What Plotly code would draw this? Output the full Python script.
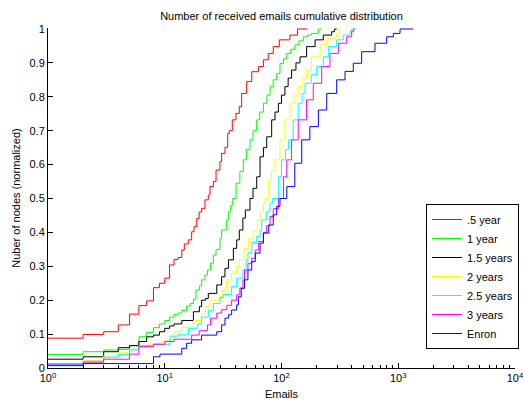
import plotly.graph_objects as go

# ---- data ----
names = [".5 year", "1 year", "1.5 years", "2 years", "2.5 years", "3 years", "Enron"]
colors = ["#FF0000", "#00FF00", "#000000", "#FFFF00", "#00FFFF", "#FF00FF", "#0000FF"]

red_x = [1, 2, 3, 4, 5, 6, 7, 8, 9, 10, 11, 12, 13, 14, 14.7, 15.9, 17, 17.8, 18.8, 19.7, 20.7, 22.1, 23.6,
         24.4, 26.1, 27.5, 29.7, 30.7, 32.8, 34.6, 35.7, 37.9, 40.7, 43.5, 45.6, 50.3, 55.6, 63.4, 70, 77, 85,
         95.8, 118, 137, 166]
red_y = [0.088, 0.099, 0.107, 0.127, 0.159, 0.184, 0.198, 0.237, 0.25, 0.265, 0.304, 0.32, 0.326, 0.348, 0.366,
         0.378, 0.402, 0.417, 0.441, 0.46, 0.471, 0.496, 0.51, 0.535, 0.55, 0.584, 0.609, 0.633, 0.651, 0.692,
         0.70, 0.732, 0.751, 0.771, 0.81, 0.845, 0.874, 0.889, 0.909, 0.928, 0.948, 0.968, 0.982, 1.0, 1.0]

green_x = [1, 2, 3, 4, 5, 6, 7, 8, 9, 10, 11, 12, 13, 14, 15.4, 16.5, 17.6, 18.5, 19.8, 20.7, 22.1, 23.2, 24.7,
           26.1, 27.5, 29.7, 30.7, 33.9, 35.1, 36.7, 38.2, 40.8, 44, 47.1, 50, 53.7, 57, 61.3, 65, 70, 75, 79.7,
           85, 91, 97, 104, 111, 120, 130, 141, 154, 167, 181, 207, 221]
green_y = [0.040, 0.048, 0.053, 0.055, 0.066, 0.092, 0.105, 0.119, 0.13, 0.14, 0.15, 0.157, 0.162, 0.17, 0.183,
           0.19, 0.203, 0.23, 0.242, 0.26, 0.274, 0.289, 0.309, 0.333, 0.35, 0.383, 0.407, 0.437, 0.461, 0.48,
           0.5, 0.545, 0.58, 0.614, 0.645, 0.673, 0.70, 0.732, 0.755, 0.781, 0.805, 0.83, 0.85, 0.869, 0.898,
           0.912, 0.928, 0.94, 0.953, 0.965, 0.977, 0.982, 0.987, 1.0, 1.0]

black_x = [1, 2, 3, 4, 5, 6, 7, 8, 9, 10, 11, 12, 14, 17.6, 19.8, 20.7, 22.4, 23.6, 27.9, 30.7, 32.8, 35.1, 38.7,
           41.3, 43.5, 46.7, 49, 53.7, 57, 61.3, 65.5, 70, 74.7, 82.4, 88, 94, 100, 107, 114, 122, 133, 144, 164,
           194, 228, 269, 285, 297]
black_y = [0.026, 0.033, 0.048, 0.060, 0.066, 0.078, 0.092, 0.097, 0.107, 0.117, 0.124, 0.13, 0.14, 0.166, 0.181,
           0.2, 0.205, 0.22, 0.245, 0.269, 0.294, 0.319, 0.353, 0.378, 0.407, 0.442, 0.466, 0.5, 0.53, 0.564,
           0.623, 0.65, 0.682, 0.732, 0.755, 0.781, 0.805, 0.83, 0.855, 0.879, 0.90, 0.918, 0.948, 0.968, 0.982,
           0.992, 1.0, 1.0]

yellow_x = [1, 2, 3, 4, 5, 6, 7, 8, 9, 10, 11.1, 12, 14, 17.6, 20.7, 22.4, 24.3, 29.7, 31.4, 33.9, 37.4, 41.3,
            43.5, 47.9, 52, 57.4, 62, 65.5, 70, 72, 77, 82, 88, 97, 107, 118, 128, 139, 150, 164, 181, 214, 244,
            297, 310, 317]
yellow_y = [0.012, 0.022, 0.035, 0.045, 0.055, 0.062, 0.068, 0.072, 0.076, 0.08, 0.085, 0.107, 0.12, 0.14, 0.16,
            0.181, 0.2, 0.21, 0.23, 0.26, 0.28, 0.299, 0.32, 0.353, 0.383, 0.407, 0.437, 0.461, 0.486, 0.5, 0.555,
            0.58, 0.614, 0.673, 0.732, 0.781, 0.805, 0.83, 0.855, 0.879, 0.918, 0.953, 0.973, 0.987, 1.0, 1.0]

cyan_x = [1, 2, 3, 4, 5, 6, 8, 11.1, 13, 16, 19, 20.7, 23.6, 26.1, 29.7, 31.8, 37.4, 41.3, 46.7, 49.8, 51.6,
          55.6, 61.3, 65.5, 67.6, 74.7, 79.7, 84, 94, 100, 108, 115, 126, 139, 150, 159, 180, 200, 228, 252, 297,
          339, 386, 400, 412]
cyan_y = [0.01, 0.02, 0.032, 0.04, 0.053, 0.066, 0.07, 0.094, 0.098, 0.117, 0.13, 0.15, 0.17, 0.19, 0.208, 0.217,
          0.24, 0.265, 0.29, 0.319, 0.34, 0.37, 0.388, 0.407, 0.437, 0.461, 0.486, 0.5, 0.564, 0.614, 0.645,
          0.673, 0.732, 0.781, 0.81, 0.84, 0.865, 0.889, 0.918, 0.948, 0.968, 0.982, 0.992, 1.0, 1.0]

magenta_x = [1, 2, 3, 5, 6, 8, 10, 12, 17, 19.7, 23.2, 24.7, 27.9, 30.7, 34, 37.4, 41.3, 44, 46.7, 48.2, 51.6,
             55.6, 59.6, 63.8, 70, 74.7, 79.7, 85, 94, 104, 111, 122, 139, 164, 187, 221, 260, 307, 362, 399, 415,
             426]
magenta_y = [0.012, 0.017, 0.026, 0.041, 0.063, 0.07, 0.078, 0.085, 0.097, 0.11, 0.127, 0.147, 0.162, 0.172,
             0.185, 0.2, 0.216, 0.236, 0.26, 0.289, 0.309, 0.324, 0.348, 0.373, 0.4, 0.42, 0.447, 0.47, 0.5, 0.564,
             0.614, 0.673, 0.732, 0.791, 0.84, 0.889, 0.928, 0.958, 0.977, 0.992, 1.0, 1.0]

blue_x = [1, 2, 8, 9.1, 14, 15.4, 17, 20.7, 27.9, 30.7, 32.8, 35.1, 37.4, 41.3, 42.7, 45.2, 48.2, 51.6, 55.6, 59.6,
          65.5, 70, 77.8, 85, 91, 97, 111, 130, 149, 175, 207, 244, 297, 350, 412, 486, 632, 796, 908, 1036, 1346]
blue_y = [0.007, 0.013, 0.033, 0.041, 0.058, 0.073, 0.083, 0.097, 0.107, 0.127, 0.147, 0.157, 0.171, 0.186, 0.21,
          0.235, 0.26, 0.289, 0.314, 0.339, 0.368, 0.398, 0.422, 0.452, 0.477, 0.5, 0.535, 0.604, 0.673, 0.712,
          0.761, 0.81, 0.85, 0.875, 0.899, 0.933, 0.958, 0.977, 0.987, 1.0, 1.0]

series_x = [red_x, green_x, black_x, yellow_x, cyan_x, magenta_x, blue_x]
series_y = [red_y, green_y, black_y, yellow_y, cyan_y, magenta_y, blue_y]

x_tickvals = [1, 10, 100, 1000, 10000]
x_ticktext = ["10<sup>0</sup>", "10<sup>1</sup>", "10<sup>2</sup>", "10<sup>3</sup>", "10<sup>4</sup>"]
x_minor = [m * 10 ** d for d in range(4) for m in range(2, 10)]
y_tickvals = [i / 10 for i in range(11)]
y_ticktext = ["0", "0.1", "0.2", "0.3", "0.4", "0.5", "0.6", "0.7", "0.8", "0.9", "1"]

FONT = "Liberation Sans, Arial, Helvetica, sans-serif"

fig = go.Figure()
for nm, col, xs, ys in zip(names, colors, series_x, series_y):
    fig.add_trace(go.Scatter(x=xs, y=ys, mode="lines", name=nm,
                             line=dict(color=col, width=1, shape="hv")))

fig.update_layout(
    width=524, height=402,
    margin=dict(l=48, r=9, t=28, b=34, autoexpand=False),
    paper_bgcolor="white", plot_bgcolor="white",
    font=dict(family=FONT, size=11, color="black"),
    title=dict(text="Number of received emails cumulative distribution",
               x=0.5, xref="paper", y=1 - 16 / 402, yref="container", yanchor="middle",
               font=dict(family=FONT, size=11, color="black")),
    xaxis=dict(type="log", range=[0, 4], showgrid=False, zeroline=False,
               showline=True, linecolor="black", linewidth=1,
               ticks="inside", ticklen=5, tickcolor="black",
               tickmode="array", tickvals=x_tickvals, ticktext=x_ticktext,
               minor=dict(tickmode="array", tickvals=x_minor, ticks="inside", ticklen=3,
                          tickcolor="black", showgrid=False),
               title=dict(text="Emails", standoff=7, font=dict(size=11))),
    yaxis=dict(range=[0, 1 + 1 / 339], showgrid=False, zeroline=False,
               showline=True, linecolor="black", linewidth=1,
               ticks="inside", ticklen=5, tickcolor="black",
               tickmode="array", tickvals=y_tickvals, ticktext=y_ticktext,
               title=dict(text="Nuber of nodes (normalized)", standoff=6, font=dict(size=11))),
    legend=dict(x=(519 - 48) / 467, xanchor="right", y=(368 - 276.5) / 340, yanchor="middle",
                bordercolor="black", borderwidth=1, bgcolor="white",
                font=dict(family=FONT, size=11, color="black"), tracegroupgap=0),
    showlegend=True,
)

fig.write_html("out.html")
